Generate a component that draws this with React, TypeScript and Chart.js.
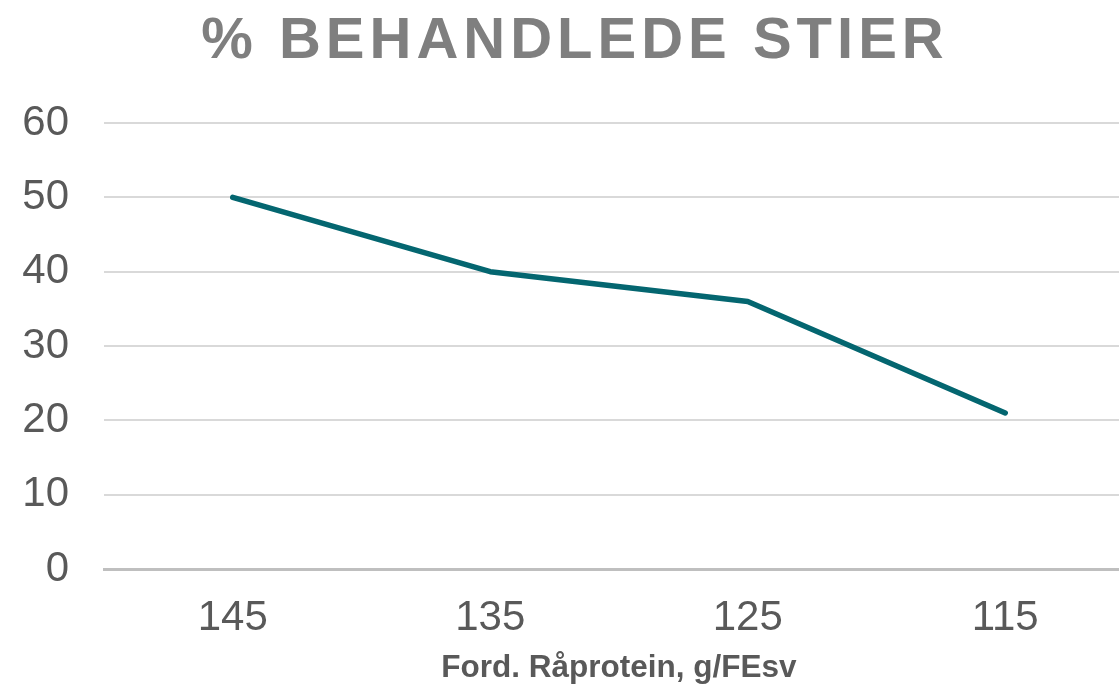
import React, { useEffect, useRef } from "react";
import { Chart, registerables } from "chart.js";

Chart.register(...registerables);

const titleText = "% BEHANDLEDE STIER";
const xAxisTitle = "Ford. Råprotein, g/FEsv";
const categories = ["145", "135", "125", "115"];
const values = [50, 40, 36, 21];
const yMin = 0;
const yMax = 60;
const yStep = 10;

const FONT = "'Liberation Sans', Arial, sans-serif";

export default function App() {
  const ref = useRef<HTMLCanvasElement | null>(null);

  useEffect(() => {
    if (!ref.current) return;
    const chart = new Chart(ref.current, {
      type: "line",
      data: {
        labels: categories,
        datasets: [
          {
            data: values,
            borderColor: "#046670",
            borderWidth: 5.5,
            pointRadius: 0,
            borderCapStyle: "round",
            borderJoinStyle: "round",
            tension: 0,
            fill: false,
          },
        ],
      },
      options: {
        animation: false,
        responsive: false,
        maintainAspectRatio: false,
        layout: { padding: { top: 123, right: 16, bottom: 0, left: 0 } },
        plugins: {
          legend: { display: false },
          title: { display: false },
          tooltip: { enabled: false },
        },
        scales: {
          x: {
            type: "category",
            offset: true,
            grid: { display: false, drawTicks: false },
            border: { display: true, color: "#bfbfbf", width: 3 },
            ticks: {
              color: "#595959",
              font: { family: FONT, size: 42 },
              padding: 24,
              maxRotation: 0,
              autoSkip: false,
            },
            title: {
              display: true,
              text: xAxisTitle,
              color: "#595959",
              font: { family: FONT, size: 31.5, weight: "bold" },
              padding: { top: 0, bottom: 0 },
            },
            afterFit: (scale: any) => {
              scale.height = 118;
            },
          },
          y: {
            min: yMin,
            max: yMax,
            grid: { color: "#d9d9d9", lineWidth: 2, drawTicks: false },
            border: { display: false },
            ticks: {
              stepSize: yStep,
              color: "#595959",
              font: { family: FONT, size: 42 },
              padding: 35,
            },
            afterFit: (scale: any) => {
              scale.width = 104;
            },
          },
        },
      },
    });
    return () => chart.destroy();
  }, []);

  return (
    <div
      style={{
        position: "fixed",
        left: 0,
        top: 0,
        width: 1119,
        height: 687,
        overflow: "hidden",
        background: "#ffffff",
      }}
    >
      <canvas
        ref={ref}
        width={1150}
        height={687}
        style={{ position: "absolute", left: 0, top: 0, width: 1150, height: 687 }}
      />
      <div
        style={{
          position: "absolute",
          left: 0,
          top: 9,
          width: 1150,
          textAlign: "center",
          fontFamily: FONT,
          fontWeight: "bold",
          fontSize: 58,
          lineHeight: "58px",
          letterSpacing: "5px",
          color: "#7f7f7f",
          whiteSpace: "nowrap",
        }}
      >
        {titleText}
      </div>
    </div>
  );
}
